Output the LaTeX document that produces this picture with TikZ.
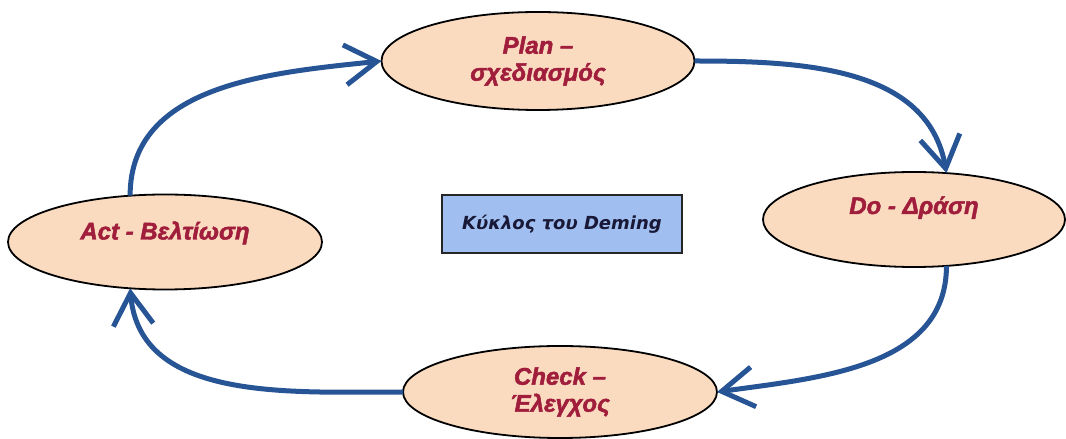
\documentclass[tikz,border=0pt]{standalone}
\usepackage{fontspec}
\setmainfont{Liberation Sans}
\newfontfamily\stagefont{Liberation Sans}[BoldItalicFeatures={FakeBold=2}]
\newfontfamily\boxfont{DejaVu Sans}
\usetikzlibrary{shapes.geometric,arrows.meta}
\definecolor{stagefill}{RGB}{251,219,192}
\definecolor{stagetext}{RGB}{160,30,60}
\definecolor{titlefill}{RGB}{160,190,240}
\definecolor{titletext}{RGB}{25,25,55}
\definecolor{cycleblue}{RGB}{38,84,148}
\begin{document}
\begin{tikzpicture}[x=1pt,y=1pt,
  stage/.style={ellipse, draw=black, line width=1.8pt, fill=stagefill,
    inner sep=0pt, outer sep=0pt, text=stagetext,
    font=\stagefont\fontsize{24}{27}\selectfont\bfseries\itshape},
  titlebox/.style={rectangle, draw=black!85, line width=2pt, fill=titlefill,
    minimum width=240pt, minimum height=58pt, inner sep=0pt, text=titletext,
    font=\boxfont\fontsize{18}{21}\selectfont\bfseries\itshape},
  flow/.style={draw=cycleblue, line width=5pt,
    -{Straight Barb[length=32pt,width=40pt]}}
]
\useasboundingbox (0,0) rectangle (1066,439);

% the four stages of the cycle
\node[stage, align=center, minimum width=313pt, minimum height=98pt]
  (plan) at (538,378) {Plan –\\σχεδιασμός};
\node[stage, minimum width=302pt, minimum height=95pt,
  text height=8pt, text depth=19pt]
  (do) at (914,219.5) {Do - Δράση};
\node[stage, align=center, minimum width=314pt, minimum height=92pt]
  (check) at (560,47) {Check –\\Έλεγχος};
\node[stage, minimum width=314pt, minimum height=95pt,
  text height=10pt, text depth=15pt]
  (act) at (165,197) {Act - Βελτίωση};

% title in the middle
\node[titlebox] (title) at (562,215) {Κύκλος του Deming};

% connecting arrows
\draw[flow] (act.127) to[out=90,in=186] (plan.west);
\draw[flow] (plan.east) to[out=0,in=100] (do.55);
\draw[flow] (do.-55) to[out=-90,in=8] (check.east);
\draw[flow] (check.west) to[out=180,in=-85] (act.-127);
\end{tikzpicture}
\end{document}
